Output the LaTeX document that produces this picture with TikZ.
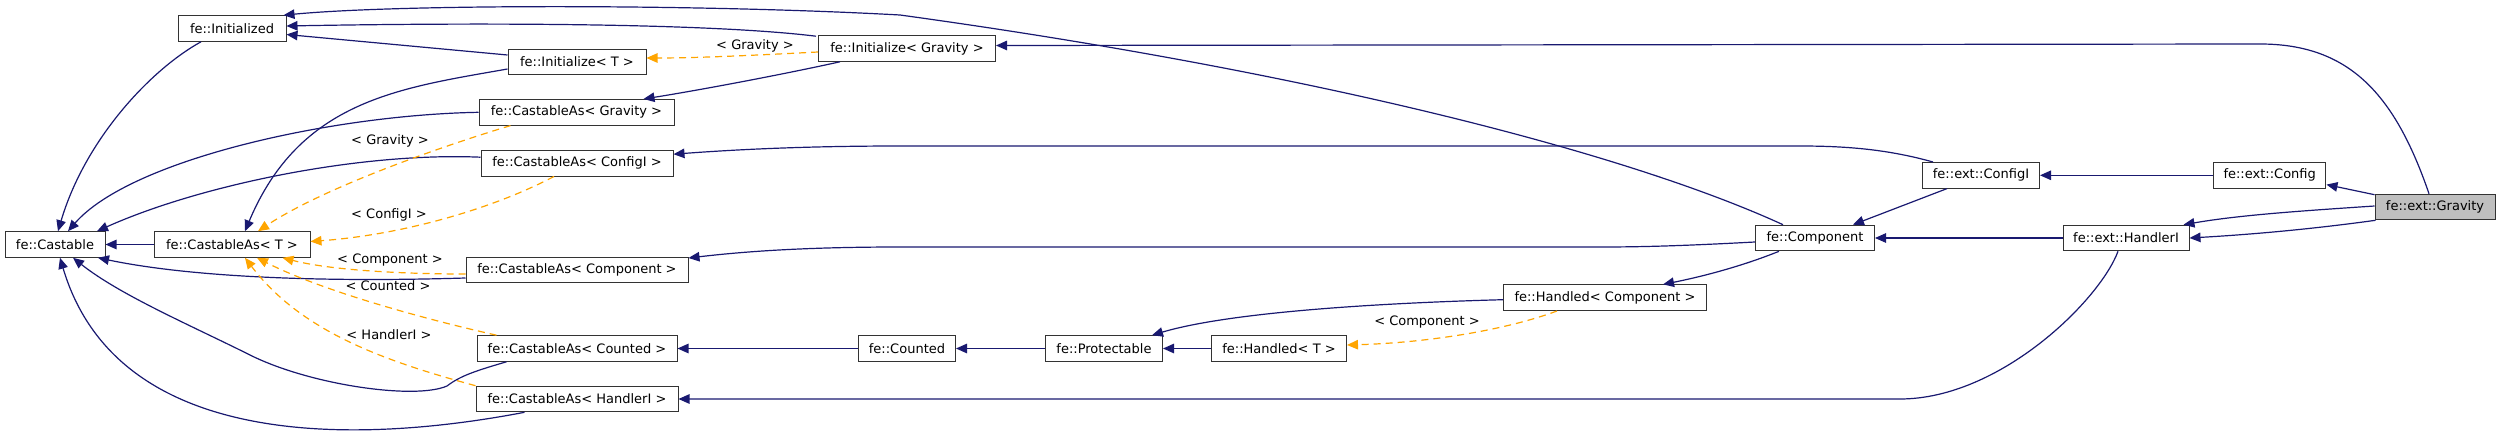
\documentclass[tikz,border=0pt]{standalone}
\usepackage{fontspec}
\setmainfont{DejaVu Sans}
\usetikzlibrary{arrows.meta,calc}
\definecolor{mblue}{RGB}{25,25,112}
\definecolor{dorange}{RGB}{255,165,0}
\definecolor{gfill}{RGB}{191,191,191}
\begin{document}
\begin{tikzpicture}[x=1pt,y=-1pt,
  cls/.style={draw=black!80, line width=1pt, fill=white, minimum height=25.6pt, inner sep=0pt, font=\fontsize{13}{15}\selectfont},
  inh/.style={draw=mblue, line width=1.2pt, -{Triangle[length=11pt,width=9.5pt]}},
  tpl/.style={draw=dorange, line width=1.2pt, dash pattern=on 7pt off 5pt, -{Triangle[length=11pt,width=9.5pt]}},
  lbl/.style={font=\fontsize{13}{15}\selectfont, inner sep=0pt}]
\useasboundingbox (0,0) rectangle (2504,436);
% nodes
\node[cls, minimum width=108pt] (initd) at (232,28.5) {fe::Initialized};
\node[cls, minimum width=138pt] (initT) at (577,62) {fe::Initialize< T >};
\node[cls, minimum width=177pt] (initG) at (907,48.5) {fe::Initialize< Gravity >};
\node[cls, minimum width=195pt] (caG) at (576.5,112.3) {fe::CastableAs< Gravity >};
\node[cls, minimum width=192pt] (caC) at (577,163.2) {fe::CastableAs< ConfigI >};
\node[cls, minimum width=100pt] (castable) at (55,244.5) {fe::Castable};
\node[cls, minimum width=156pt] (caT) at (232,244.5) {fe::CastableAs< T >};
\node[cls, minimum width=222pt] (caComp) at (577,270) {fe::CastableAs< Component >};
\node[cls, minimum width=200pt] (caCnt) at (577,348.5) {fe::CastableAs< Counted >};
\node[cls, minimum width=202pt] (caH) at (577,399) {fe::CastableAs< HandlerI >};
\node[cls, minimum width=97pt] (counted) at (907,348.5) {fe::Counted};
\node[cls, minimum width=117pt] (prot) at (1104,348.5) {fe::Protectable};
\node[cls, minimum width=135pt] (handT) at (1279,348.5) {fe::Handled< T >};
\node[cls, minimum width=203pt] (handC) at (1605,297.7) {fe::Handled< Component >};
\node[cls, minimum width=119pt] (comp) at (1815,238) {fe::Component};
\node[cls, minimum width=117pt] (cfgI) at (1981,175.3) {fe::ext::ConfigI};
\node[cls, minimum width=112.5pt] (cfg) at (2269.7,175.3) {fe::ext::Config};
\node[cls, minimum width=120pt, fill=gfill] (grav) at (2435,207) {fe::ext::Gravity};
\node[cls, minimum width=126pt] (handI) at (2126,238) {fe::ext::HandlerI};
% labels
\node[lbl] (l1) at (390,141) {< Gravity >};
\node[lbl] (l2) at (389,215) {< ConfigI >};
\node[lbl] (l3) at (390,260.5) {< Component >};
\node[lbl] (l4) at (388,285.5) {< Counted >};
\node[lbl] (l5) at (389,334.5) {< HandlerI >};
\node[lbl] (l6) at (755,45.5) {< Gravity >};
\node[lbl] (l7) at (1427,322.5) {< Component >};
% edges into Castable
\draw[inh] ($(initd.south)+(-31,0)$) .. controls (150,70) and (85,140) .. ($(castable.north)+(3,0)$);
\draw[inh] (caG.west) .. controls (330,115) and (130,160) .. ($(castable.north)+(13,0)$);
\draw[inh] ($(caC.west)+(0,-6)$) .. controls (360,152) and (200,185) .. ($(castable.north)+(42,0)$);
\draw[inh] (caT.west) -- (castable.east);
\draw[inh] ($(caComp.west)+(0,8)$) .. controls (300,283) and (180,275) .. ($(castable.south)+(43,0)$);
\draw[inh] ($(caCnt.south west)+(30,0)$) .. controls (475,371) and (460,376) .. (447,386)
   .. controls (415,400) and (310,385) .. (250,355) .. controls (190,325) and (120,295) .. ($(castable.south)+(18,0)$);
\draw[inh] ($(caH.south west)+(49,0)$) .. controls (380,440) and (120,460) .. ($(castable.south)+(5,0)$);
% edges into Initialized
\draw[inh] ($(initT.west)+(0,-7)$) -- ($(initd.east)+(0,6)$);
\draw[inh] ($(initG.north west)+(-2,1)$) .. controls (700,22) and (450,23) .. ($(initd.east)+(0,-2.5)$);
\draw[inh] ($(comp.north)+(-32,0)$) .. controls (1620,150) and (1300,70) .. (900,15)
   .. controls (700,4) and (400,4) .. ($(initd.north east)+(-3,0)$);
% into CastableAs<T>
\draw[inh] ($(initT.west)+(0,7)$) .. controls (400,88) and (300,100) .. ($(caT.north)+(13,0)$);
\draw[tpl] ($(caG.south west)+(32,0)$) .. controls (430,150) and (320,190) .. ($(caT.north)+(26,0)$);
\draw[tpl] ($(caC.south)+(-23,0)$) .. controls (490,210) and (400,235) .. ($(caT.east)+(0,-3)$);
\draw[tpl] ($(caComp.west)+(0,4)$) .. controls (400,274) and (330,270) .. ($(caT.south east)+(-28,0)$);
\draw[tpl] ($(caCnt.north west)+(20,0)$) .. controls (420,318) and (320,290) .. ($(caT.south)+(25,0)$);
\draw[tpl] (caH.north west) .. controls (380,360) and (300,330) .. ($(caT.south)+(13,0)$);
% Initialize<Gravity>
\draw[tpl] ($(initG.west)+(0,3.5)$) .. controls (760,55) and (700,58) .. ($(initT.east)+(0,-4)$);
\draw[inh] ($(initG.south west)+(22,0)$) .. controls (780,75) and (700,90) .. ($(caG.north east)+(-31,0)$);
\draw[inh] ($(grav.north)+(-6,0)$) .. controls (2395,95) and (2350,44) .. (2260,44) -- ($(initG.east)+(0,-3)$);
% ConfigI, Component
\draw[inh] ($(cfgI.north west)+(11,0)$) .. controls (1890,150) and (1850,146) .. (1800,146) -- (900,146)
   .. controls (800,146) and (730,150) .. ($(caC.east)+(0,-9)$);
\draw[inh] ($(comp.west)+(0,4)$) .. controls (1680,246) and (1640,247) .. (1600,247) -- (900,247)
   .. controls (800,247) and (740,252) .. ($(caComp.east)+(0,-12)$);
% Counted chain
\draw[inh] (counted.west) -- (caCnt.east);
\draw[inh] (prot.west) -- (counted.east);
\draw[inh] (handT.west) -- (prot.east);
\draw[inh] ($(handC.west)+(0,2)$) .. controls (1380,303) and (1230,312) .. ($(prot.north east)+(-11,0)$);
\draw[tpl] ($(handC.south west)+(54,0)$) .. controls (1500,332) and (1420,343) .. ($(handT.east)+(0,-3.5)$);
\draw[inh] ($(comp.south)+(-36,0)$) .. controls (1740,267) and (1700,277) .. ($(handC.north)+(58,0)$);
\draw[inh] ($(cfgI.south)+(-34,0)$) -- ($(comp.north east)+(-22,0)$);
\draw[inh] (handI.west) -- (comp.east);
\draw[inh] ($(handI.south)+(-8,0)$) .. controls (2100,300) and (2000,399) .. (1900,399) -- (caH.east);
\draw[inh] (cfg.west) -- (cfgI.east);
\draw[inh] ($(grav.north west)+(0,1)$) -- ($(cfg.south east)+(0,-4)$);
\draw[inh] ($(grav.west)+(0,-1)$) .. controls (2300,211) and (2240,215) .. ($(handI.north east)+(-6,0)$);
\draw[inh] ($(grav.south west)+(1,0)$) .. controls (2320,228) and (2260,234) .. (handI.east);
\end{tikzpicture}
\end{document}
